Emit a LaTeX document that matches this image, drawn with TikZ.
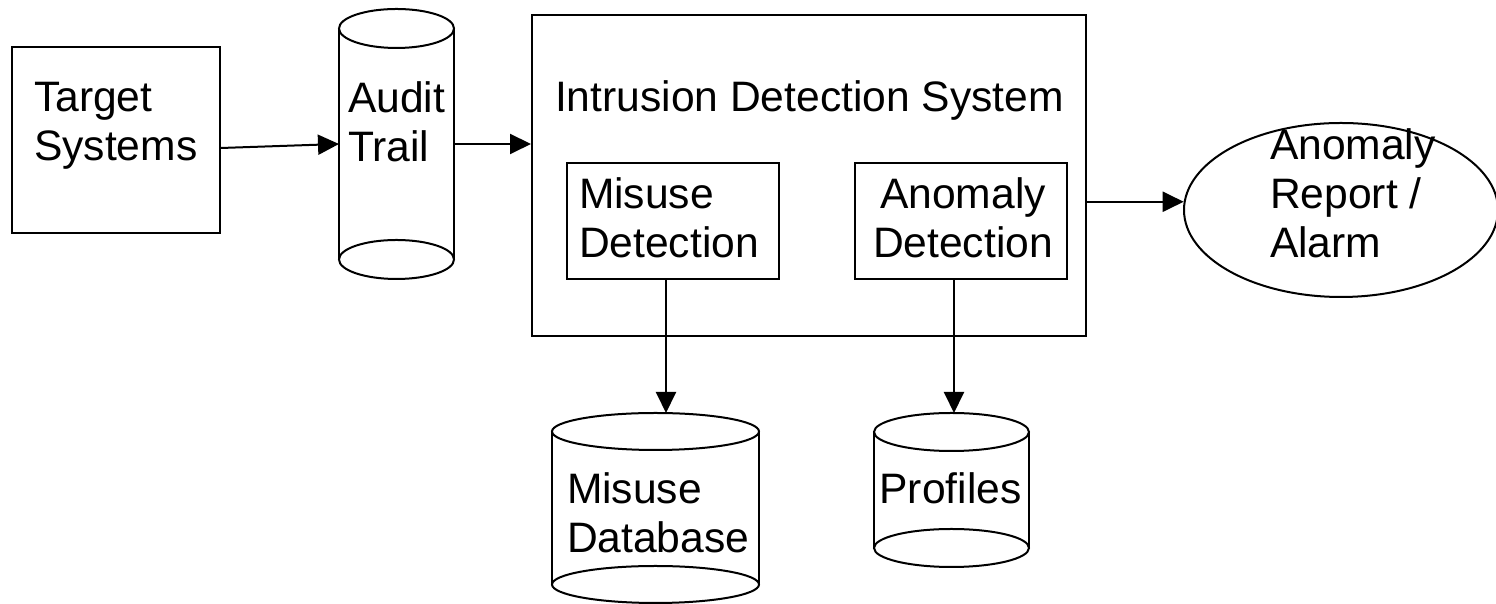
\documentclass[tikz,border=0pt]{standalone}
\usepackage{fontspec}
\setmainfont{Liberation Sans}
\usetikzlibrary{arrows.meta,shapes.geometric}

\begin{document}
\begin{tikzpicture}[x=1pt,y=1pt,line width=1pt,
    box/.style={draw, rectangle, inner sep=0pt},
    drum/.style={inner sep=0pt, outer sep=0pt},
    txt/.style={anchor=north west, align=left, inner sep=0pt, font=\fontsize{21.3}{24.5}\selectfont},
    arr/.style={-{Triangle[length=10.5pt,width=10pt]}}]
    \useasboundingbox (0,0) rectangle (748,302);

    % sources
    \node[box, minimum width=104pt, minimum height=93pt] (target) at (58,232) {};
    \node[txt] (target-t) at (16.5,261.5) {Target\\Systems};
    \node[drum, minimum width=57.5pt, minimum height=135pt] (audit) at (198.25,230) {};
    \node[txt] (audit-t) at (173.5,261.5) {Audit\\Trail};

    % detector
    \node[box, minimum width=277pt, minimum height=160.5pt] (ids) at (404.5,214.25) {};
    \node[txt] (ids-t) at (277,262) {Intrusion Detection System};
    \node[box, minimum width=106pt, minimum height=57.75pt] (mdet) at (336.5,191.6) {};
    \node[txt] (mdet-t) at (289,213.5) {Misuse\\Detection};
    \node[box, minimum width=106pt, minimum height=57.75pt] (adet) at (480.5,191.6) {};
    \node[txt, anchor=north, align=center] (adet-t) at (481.5,213.5) {Anomaly\\Detection};

    % output
    \node[draw, ellipse, minimum width=157pt, minimum height=87pt, inner sep=0pt] (alarm) at (670.5,197) {};
    \node[txt] (alarm-t) at (634.5,238) {Anomaly\\Report /\\Alarm};

    % stores
    \node[drum, minimum width=103.5pt, minimum height=95pt] (mdb) at (327.75,48) {};
    \node[txt] (mdb-t) at (283,66) {Misuse\\Database};
    \node[drum, minimum width=77.5pt, minimum height=77pt] (prof) at (475.75,57) {};
    \node[txt] (prof-t) at (439.25,66) {Profiles};

    % cylinder outlines, both ends drawn whole
    \foreach \n/\rx/\ry in {audit/28.75/9.75, mdb/51.75/9.25, prof/38.75/9.5} {
        \draw ([yshift=-\ry pt]\n.north) ellipse [x radius=\rx pt, y radius=\ry pt];
        \draw ([yshift=\ry pt]\n.south) ellipse [x radius=\rx pt, y radius=\ry pt];
        \draw ([yshift=-\ry pt]\n.north west) -- ([yshift=\ry pt]\n.south west);
        \draw ([yshift=-\ry pt]\n.north east) -- ([yshift=\ry pt]\n.south east);
    }

    % flow
    \draw[arr] ([yshift=-4pt]target.east) -- (audit.west);
    \draw[arr] (audit.east) -- (audit.east -| ids.west);
    \draw[arr] (ids.east |- alarm.177) -- (alarm.177);
    \draw[arr] ([xshift=-3.5pt]mdet.south) -- ([xshift=-3.5pt]mdet.south |- mdb.north);
    \draw[arr] ([xshift=-3.5pt]adet.south) -- ([xshift=-3.5pt]adet.south |- prof.north);
\end{tikzpicture}
\end{document}
